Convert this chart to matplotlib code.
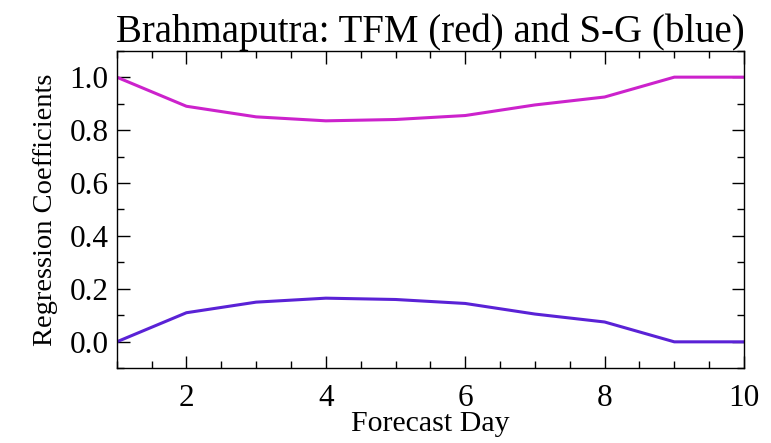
import numpy as np
import matplotlib
matplotlib.use("Agg")
import matplotlib.pyplot as plt
from matplotlib.ticker import MultipleLocator

# regression weights per forecast day
days = [1, 2, 3, 4, 5, 6, 7, 8, 9, 10]
tfm_coef = [1.0, 0.89, 0.85, 0.835, 0.84, 0.855, 0.895, 0.925, 1.0, 1.0]
sg_coef = [0.0, 0.11, 0.15, 0.165, 0.16, 0.145, 0.105, 0.075, 0.0, 0.0]

plt.rcParams['font.family'] = ['Liberation Serif', 'DejaVu Serif']

fig = plt.figure(figsize=(7.71, 4.43), dpi=100)
ax = fig.add_axes([0.1514, 0.1686, 0.8136, 0.717])

ax.plot(days, tfm_coef, color='#cc22cc', lw=2.2)
ax.plot(days, sg_coef, color='#5a22d6', lw=2.2)

ax.set_xlim(1, 10)
ax.set_ylim(-0.1, 1.1)
ax.xaxis.set_major_locator(MultipleLocator(2))
ax.xaxis.set_minor_locator(MultipleLocator(0.5))
ax.yaxis.set_minor_locator(MultipleLocator(0.1))
ax.set_yticks([0.0, 0.2, 0.4, 0.6, 0.8, 1.0])
ax.set_yticklabels(['0.0', '0.2', '0.4', '0.6', '0.8', '1.0'])

ax.tick_params(which='both', direction='in', top=True, right=True, labelsize=22.5, width=1)
ax.tick_params(which='major', length=9)
ax.tick_params(which='minor', length=5)
ax.tick_params(axis='x', which='major', pad=11)
ax.tick_params(axis='y', which='major', pad=6)
for s in ax.spines.values():
    s.set_linewidth(1)

ax.set_xlabel('Forecast Day', fontsize=21.5)
ax.xaxis.set_label_coords(0.5, -0.133)
ax.set_ylabel('Regression Coefficients', fontsize=20.5, labelpad=8)
ax.set_title('Brahmaputra: TFM (red) and S-G (blue)', fontsize=28, pad=4)

fig.savefig('out.png', dpi=100)
